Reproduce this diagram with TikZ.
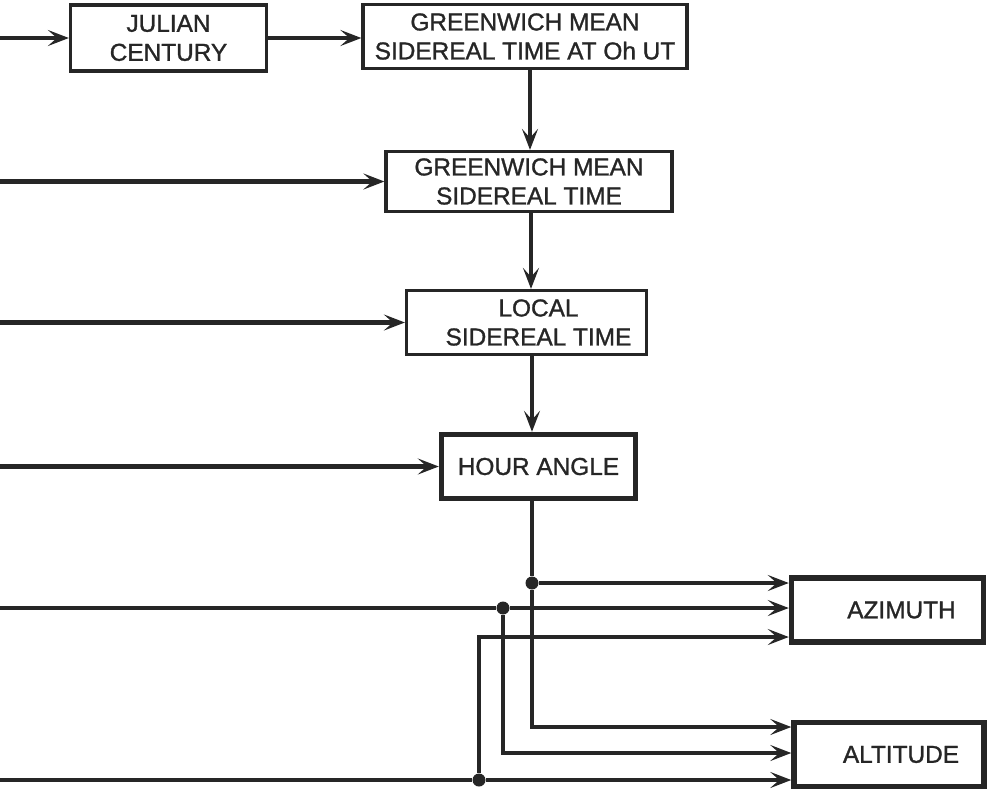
\documentclass[tikz,border=0pt]{standalone}
\usepackage{fontspec}
\setmainfont{Liberation Sans}[FakeBold=1.2]
\newfontfamily\heavy{Liberation Sans}[FakeBold=1.2]
\usetikzlibrary{arrows.meta,calc}
\begin{document}
\begin{tikzpicture}[x=0.5pt,y=-0.5pt,
  box/.style={draw=black!85,line width=1.6pt,align=center,inner sep=0pt,
    font=\heavy\fontsize{12.2pt}{14.5pt}\selectfont,text=black!85},
  bbox/.style={box,line width=2.7pt},
  arr/.style={draw=black!85,line width=2.2pt,-{Stealth[length=10.5pt,width=8pt,inset=4.5pt]}},
  ln/.style={draw=black!85,line width=2.2pt},
  dot/.style={circle,fill=black!85,inner sep=0pt,minimum size=6.5pt}]
\useasboundingbox (0,0) rectangle (987,789);

% boxes
\node[box,minimum width=98pt,minimum height=33pt] (jc) at (168.5,38) {JULIAN\\CENTURY};
\node[box,minimum width=162pt,minimum height=32pt] (gm0) at (525,36.5) {GREENWICH MEAN\\SIDEREAL TIME AT Oh UT};
\node[box,minimum width=143pt,minimum height=30pt] (gm) at (529,181.5) {GREENWICH MEAN\\SIDEREAL TIME};
\node[box,minimum width=120pt,minimum height=32pt] (lst) at (526.5,322.5) {\hspace*{12pt}LOCAL\\\hspace*{12pt}SIDEREAL TIME};
\node[bbox,minimum width=97pt,minimum height=32pt] (ha) at (538.5,466.5) {HOUR ANGLE};
\node[bbox,minimum width=96pt,minimum height=32pt] (az) at (887.5,610) {\hspace*{14pt}AZIMUTH};
\node[bbox,minimum width=95pt,minimum height=32pt] (alt) at (889,754.5) {\hspace*{12pt}ALTITUDE};

% free ends and junctions
\coordinate (in1) at (0,38);
\coordinate (in2) at (0,181.5);
\coordinate (in3) at (0,322.5);
\coordinate (in4) at (0,466.5);
\coordinate (in5) at (0,608);
\coordinate (in6) at (0,780);
\coordinate (vx) at (532,0);
\node[dot] (d1) at (532,583) {};
\node[dot] (d2) at (503,608) {};
\node[dot] (d3) at (479,780) {};

% top chain
\draw[arr] (in1) -- (jc.west);
\draw[arr] (jc.east) -- (jc.east -| gm0.west);
\draw[arr] ([xshift=2.5pt]gm0.south) -- ([xshift=2.5pt]gm0.south |- gm.north);
\draw[arr] (in2) -- (gm.west);
\draw[arr] ([xshift=1pt]gm.south) -- ([xshift=1pt]gm.south |- lst.north);
\draw[arr] (in3) -- (lst.west);
\draw[arr] (lst.south -| vx) -- (ha.north -| vx);
\draw[arr] (in4) -- (ha.west);

% hour angle branches
\draw[ln] (ha.south -| vx) -- (d1);
\draw[arr] (d1) -- (d1 -| az.west);
\draw[arr] (d1) -- (532,727) -- (alt.west |- 0,727);

% second input
\draw[arr] (in5) -- (d2) -- (d2 -| az.west);
\draw[arr] (d2) -- (503,753) -- (alt.west |- 0,753);

% third input
\draw[arr] (in6) -- (d3) -- (d3 -| alt.west);
\draw[arr] (d3) -- (479,637) -- (az.west |- 0,637);
\end{tikzpicture}
\end{document}
